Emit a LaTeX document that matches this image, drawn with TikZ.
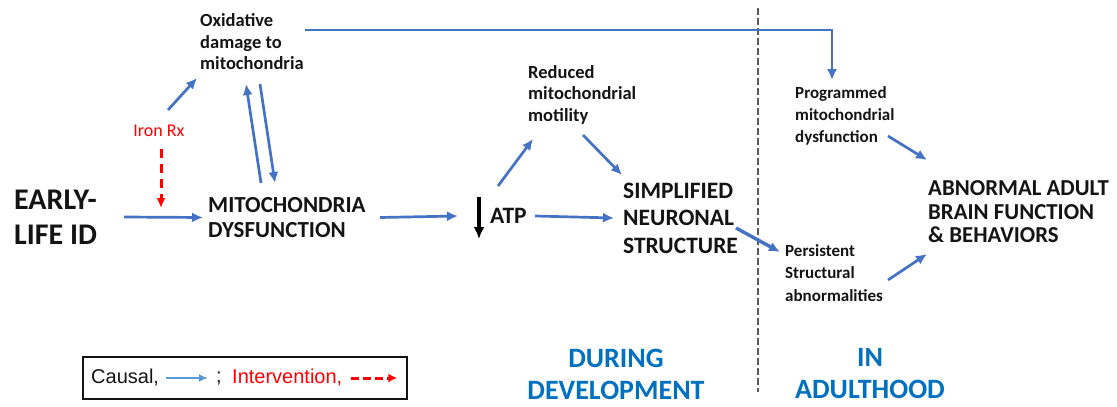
\documentclass[tikz,border=0pt]{standalone}
\usepackage{fontspec}
\setmainfont{Carlito}
\newfontfamily\arialfont{Liberation Sans}
\usetikzlibrary{arrows.meta}
\definecolor{cblue}{RGB}{68,114,196}
\definecolor{legblue}{RGB}{91,155,213}
\definecolor{seclabel}{RGB}{0,112,192}
\definecolor{ired}{RGB}{255,0,0}
\definecolor{ink}{RGB}{20,20,20}
\begin{document}
\begin{tikzpicture}[x=1pt,y=-1pt,
  causal/.style={draw=cblue, line width=2.7pt, -{Latex[length=11pt,width=10pt]}},
  interv/.style={draw=ired, line width=3pt, dash pattern=on 9pt off 6pt, -{Latex[length=10pt,width=9pt]}},
  smalltxt/.style={font=\bfseries\fontsize{18.5}{21.5}\selectfont, align=left, inner sep=0pt, text=ink, anchor=west},
  bigtxt/.style={font=\bfseries\fontsize{23}{25.5}\selectfont, align=left, inner sep=0pt, text=ink, anchor=west},
  sectxt/.style={font=\bfseries\fontsize{28}{32}\selectfont, align=center, inner sep=0pt, text=seclabel},
  legtxt/.style={font=\arialfont\fontsize{20}{24}\selectfont, inner sep=0pt, anchor=west}]
\useasboundingbox (0,0) rectangle (1117,407);

% phase separator
\draw[gray!70!black, line width=2pt, dash pattern=on 7pt off 3pt] (758,8) -- (758,392);

% nodes
\node[bigtxt, font=\bfseries\fontsize{30}{35}\selectfont] (early) at (14,217) {EARLY-\\LIFE ID};
\node[bigtxt] (mito) at (208,217.5) {MITOCHONDRIA\\DYSFUNCTION};
\node[smalltxt] (ox) at (200,42) {Oxidative\\damage to\\mitochondria};
\node[inner sep=0pt, text=ired, font=\fontsize{18}{21}\selectfont] (iron) at (159,131) {Iron Rx};
\node[bigtxt, font=\bfseries\fontsize{23.5}{26}\selectfont] (atp) at (490,216) {ATP};
\node[smalltxt] (red) at (528,94.5) {Reduced\\mitochondrial\\motility};
\node[bigtxt, font=\bfseries\fontsize{23.5}{27.5}\selectfont] (simp) at (623,218) {SIMPLIFIED\\NEURONAL\\STRUCTURE};
\node[smalltxt, font=\bfseries\fontsize{17}{22}\selectfont] (prog) at (795,116) {Programmed\\mitochondrial\\dysfunction};
\node[smalltxt, font=\bfseries\fontsize{17}{22.5}\selectfont] (pers) at (785,273) {Persistent\\Structural\\abnormalities};
\node[bigtxt, font=\bfseries\fontsize{22.8}{23.5}\selectfont] (abn) at (928,212) {ABNORMAL ADULT\\BRAIN FUNCTION\\\& BEHAVIORS};
\node[sectxt] (dur) at (616,374) {DURING\\DEVELOPMENT};
\node[sectxt] (adult) at (870,374) {IN\\ADULTHOOD};
\coordinate (ironend) at (161,208);

% causal links
\draw[causal] ([shift={(110,0)}]early.west) -- ([shift={(-5,0)}]mito.west);
\draw[causal] ([shift={(172,0)}]mito.west) -- ([shift={(-32,0)}]atp.west);
\draw[causal] ([shift={(45,0)}]atp.west) -- ([shift={(-9,0)}]simp.west);
\draw[causal] ([shift={(8,-30)}]atp.west) -- ([shift={(5,44.5)}]red.west);
\draw[causal] ([shift={(55,40.5)}]red.west) -- ([shift={(-1,-43)}]simp.west);
\draw[causal, line width=3.4pt] ([shift={(113,10)}]simp.west) -- ([shift={(-5,-21)}]pers.west);
\draw[causal] ([shift={(93,20)}]prog.west) -- ([shift={(-1,-52)}]abn.west);
\draw[causal] ([shift={(103,7)}]pers.west) -- ([shift={(-1,42)}]abn.west);
\draw[causal] ([shift={(9,-21)}]iron.center) -- ([shift={(-3,36)}]ox.west);
\draw[causal] ([shift={(53,-34.5)}]mito.west) -- ([shift={(46,42)}]ox.west);
\draw[causal] ([shift={(60,42)}]ox.west) -- ([shift={(67,-34.5)}]mito.west);
\draw[causal] ([shift={(105,-12)}]ox.west) -| ([shift={(37,-36)}]prog.west);

% intervention
\draw[interv] ([shift={(2,18)}]iron.center) -- (ironend);

% falling ATP
\draw[black, line width=3.2pt, -{Latex[length=12pt,width=11pt]}] ([shift={(-11,-19)}]atp.west) -- ([shift={(-11,23)}]atp.west);

% legend
\node[draw=ink, line width=2.5pt, minimum width=324pt, minimum height=42pt, inner sep=0pt] (leg) at (245,378) {};
\node[legtxt, text=ink] (lcausal) at (91,378) {Causal,};
\node[legtxt, text=ink] (lsemi) at (216,378) {;};
\node[legtxt, text=ired] (linterv) at (232,378) {Intervention,};
\draw[draw=legblue, line width=2.5pt, -{Latex[length=9pt,width=8pt]}] ([xshift=7pt]lcausal.east) -- ([xshift=-8pt]lsemi.west);
\draw[draw=ired, line width=3pt, dash pattern=on 8pt off 4pt, -{Latex[length=9pt,width=9pt]}] ([xshift=9pt]linterv.east) -- ([xshift=-11pt]leg.east);
\end{tikzpicture}
\end{document}
